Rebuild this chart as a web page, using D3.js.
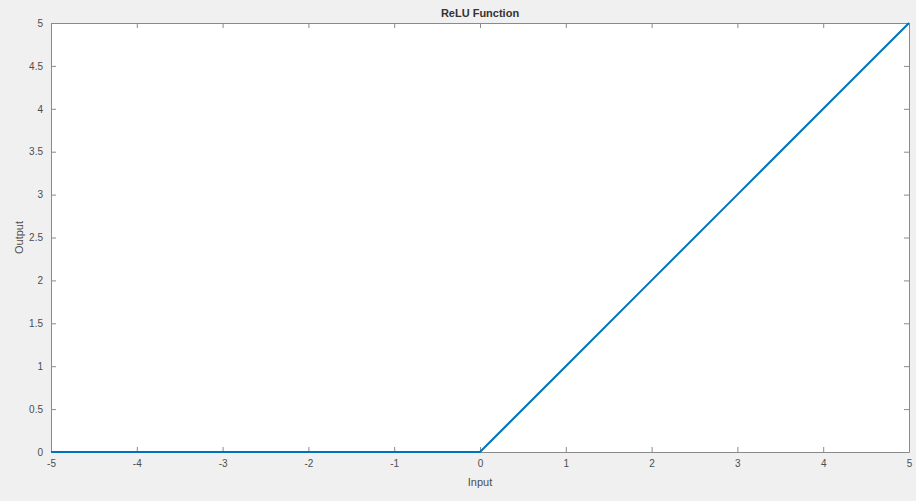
<!DOCTYPE html>
<html><head><meta charset="utf-8">
<script src="https://cdn.jsdelivr.net/npm/d3@7"></script>
<style>body{margin:0;background:#f0f0f0;}svg{display:block;}</style>
</head><body>
<script>
const inputs = [-5, -4, -3, -2, -1, 0, 1, 2, 3, 4, 5];
const outputs = [0, 0, 0, 0, 0, 0, 1, 2, 3, 4, 5];
const xTicks = [-5, -4, -3, -2, -1, 0, 1, 2, 3, 4, 5];
const yTicks = [0, 0.5, 1, 1.5, 2, 2.5, 3, 3.5, 4, 4.5, 5];
const title = "ReLU Function";
const xLabel = "Input";
const yLabel = "Output";

const W = 916, H = 501;
const m = {l: 51, r: 7, t: 23, b: 49};
const svg = d3.select("body").append("svg").attr("width", W).attr("height", H);
svg.append("rect").attr("width", W).attr("height", H).attr("fill", "#f0f0f0");
const x = d3.scaleLinear().domain([-5, 5]).range([m.l, W - m.r]);
const y = d3.scaleLinear().domain([0, 5]).range([H - m.b, m.t]);
svg.append("rect").attr("x", m.l).attr("y", m.t).attr("width", W - m.r - m.l).attr("height", H - m.b - m.t).attr("fill", "#fff");

const font = "'Liberation Sans', Arial, sans-serif";
const axCol = "#8a8a8a", txtCol = "#4d4d4d";
function style(g) {
  g.select(".domain").attr("stroke", axCol);
  g.selectAll(".tick line").attr("stroke", axCol);
  g.selectAll(".tick text").attr("fill", txtCol).attr("font-size", 10).attr("font-family", font);
}
const fmt = d => String(d);
svg.append("g").attr("transform", `translate(0,${H - m.b})`)
  .call(d3.axisBottom(x).tickValues(xTicks).tickFormat(fmt).tickSizeInner(-5).tickSizeOuter(0).tickPadding(8)).call(style);
svg.append("g").attr("transform", `translate(0,${m.t})`)
  .call(d3.axisTop(x).tickValues(xTicks).tickFormat("").tickSizeInner(-5).tickSizeOuter(0)).call(style);
svg.append("g").attr("transform", `translate(${m.l},0)`)
  .call(d3.axisLeft(y).tickValues(yTicks).tickFormat(fmt).tickSizeInner(-5).tickSizeOuter(0).tickPadding(8)).call(style);
svg.append("g").attr("transform", `translate(${W - m.r},0)`)
  .call(d3.axisRight(y).tickValues(yTicks).tickFormat("").tickSizeInner(-5).tickSizeOuter(0)).call(style);

const pts = inputs.map((v, i) => [v, outputs[i]]);
svg.append("path").datum(pts)
  .attr("d", d3.line().x(d => x(d[0])).y(d => y(d[1])))
  .attr("fill", "none").attr("stroke", "#0072BD").attr("stroke-width", 2);

svg.append("text").attr("x", (m.l + W - m.r) / 2).attr("y", 17).attr("text-anchor", "middle")
  .attr("font-family", font).attr("font-weight", "bold").attr("font-size", 11).attr("fill", "#333").text(title);
svg.append("text").attr("x", (m.l + W - m.r) / 2).attr("y", 486).attr("text-anchor", "middle")
  .attr("font-family", font).attr("font-size", 11).attr("fill", txtCol).text(xLabel);
svg.append("text").attr("transform", `translate(23,${(m.t + H - m.b) / 2}) rotate(-90)`).attr("text-anchor", "middle")
  .attr("font-family", font).attr("font-size", 11).attr("fill", txtCol).text(yLabel);
</script>
</body></html>
